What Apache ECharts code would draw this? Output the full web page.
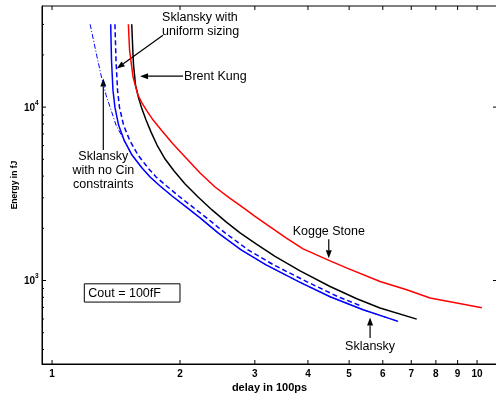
<!DOCTYPE html>
<html>
<head>
<meta charset="utf-8">
<script src="https://cdn.jsdelivr.net/npm/echarts@6/dist/echarts.min.js"></script>
<style>
  html, body { margin: 0; padding: 0; background: #fff; }
  #chart { width: 496px; height: 393px; }
</style>
</head>
<body>
<div id="chart"></div>
<script>
// axis ranges (log-log)
const xMin = 0.947, xMax = 11.14;
const yMin = 330, yMax = 38300;

// tick labels
const xTicks = [1, 2, 3, 4, 5, 6, 7, 8, 9, 10];
const yMajor = [1000, 10000];
const yMajorExp = ['3', '4'];
const yMinor = [400, 500, 600, 700, 800, 900, 2000, 3000, 4000, 5000, 6000, 7000, 8000, 9000, 20000, 30000];

// curves: [delay in 100ps, energy in fJ]
const sklansky = [[1.374, 30050], [1.380, 18650], [1.391, 12530], [1.406, 9960], [1.434, 7877], [1.477, 6457],
  [1.542, 5292], [1.628, 4455], [1.701, 3954], [1.795, 3510], [1.916, 3073], [2.067, 2657], [2.230, 2296],
  [2.458, 1882], [2.785, 1502], [3.188, 1231], [3.813, 983], [4.510, 806], [5.393, 678], [6.519, 581]];
const sklanskyUniform = [[1.406, 30050], [1.414, 18650], [1.426, 12530], [1.441, 9960], [1.473, 7877], [1.522, 6457],
  [1.593, 5292], [1.682, 4455], [1.757, 3954], [1.860, 3510], [1.985, 3073], [2.141, 2657], [2.310, 2296],
  [2.553, 1882], [2.892, 1502], [3.320, 1231], [3.981, 983], [4.710, 806], [5.355, 710]];
const sklanskyNoCin = [[1.229, 30050], [1.266, 21290], [1.304, 15290], [1.340, 11730], [1.377, 9610], [1.414, 7877],
  [1.477, 6457], [1.542, 5292], [1.628, 4455], [1.701, 3954], [1.795, 3510], [1.916, 3073], [2.067, 2657],
  [2.230, 2296], [2.458, 1882], [2.785, 1502], [3.188, 1231], [3.813, 983], [4.510, 806], [5.393, 678], [6.519, 581]];
const brentKung = [[1.540, 30050], [1.547, 22740], [1.555, 17450], [1.572, 13390], [1.598, 11270], [1.628, 9739],
  [1.664, 8420], [1.710, 7178], [1.766, 6043], [1.845, 5019], [1.937, 4280], [2.056, 3603], [2.206, 3033],
  [2.379, 2553], [2.567, 2177], [2.769, 1882], [3.020, 1627], [3.347, 1378], [3.833, 1137], [4.510, 924],
  [5.212, 785], [5.911, 694], [7.212, 599]];
const koggeStone = [[1.512, 30050], [1.522, 21290], [1.551, 14890], [1.593, 11730], [1.628, 10540], [1.673, 9484],
  [1.729, 8420], [1.815, 7275], [1.926, 6124], [2.067, 5087], [2.230, 4170], [2.418, 3463], [2.623, 2973],
  [2.769, 2710], [3.003, 2342], [3.259, 2038], [3.552, 1761], [3.896, 1522], [4.510, 1298], [4.945, 1179],
  [5.911, 987], [6.832, 884], [7.752, 792], [8.960, 741], [10.26, 696]];

// annotations
const notes = [
  { at: [1.815, 30060], text: 'Sklansky with\nuniform sizing', align: 'left' },
  { at: [2.045, 15085], text: 'Brent Kung', align: 'left' },
  { at: [1.32, 4298], text: 'Sklansky\nwith no Cin\nconstraints', align: 'center' },
  { at: [4.478, 1915], text: 'Kogge Stone', align: 'center' },
  { at: [5.601, 417], text: 'Sklansky', align: 'center' }
];
const arrows = [
  [[1.824, 25970], [1.42, 16700]],
  [[2.033, 15085], [1.611, 15085]],
  [[1.32, 5655], [1.32, 14630]],
  [[4.478, 1731], [4.478, 1346]],
  [[5.601, 466], [5.601, 612]]
];
const coutBox = [[1.191, 957], [2.0, 751]];
const coutText = 'Cout = 100fF';

const FONT = '"Liberation Sans", Arial, Helvetica, sans-serif';

const chart = echarts.init(document.getElementById('chart'));

function lineEl(x1, y1, x2, y2, w) {
  return { type: 'line', shape: { x1, y1, x2, y2 }, style: { stroke: '#000', lineWidth: w || 1 } };
}

function curve(data, color, width, type) {
  return {
    type: 'line', data, showSymbol: false, smooth: false,
    lineStyle: { color, width, type: type || 'solid' }
  };
}

const option = {
  animation: false,
  backgroundColor: '#fff',
  grid: {
    left: 42, top: 6, width: 455, bottom: 29,
    outerBoundsMode: 'none', containLabel: false,
    show: true, borderColor: '#000', borderWidth: 1
  },
  xAxis: {
    type: 'log', logBase: 10, min: xMin, max: xMax,
    name: 'delay in 100ps', nameLocation: 'middle', nameGap: 18.5,
    nameTextStyle: { fontFamily: FONT, fontWeight: 'bold', fontSize: 11, color: '#000' },
    axisLine: { show: true, lineStyle: { color: '#000', width: 1 } },
    axisTick: { show: false }, axisLabel: { show: false }, splitLine: { show: false }
  },
  yAxis: {
    type: 'log', logBase: 10, min: yMin, max: yMax,
    name: 'Energy in fJ', nameLocation: 'middle', nameGap: 23, nameRotate: 90,
    nameTextStyle: { fontFamily: FONT, fontWeight: 'bold', fontSize: 8.5, color: '#000' },
    axisLine: { show: true, lineStyle: { color: '#000', width: 1 } },
    axisTick: { show: false }, axisLabel: { show: false }, splitLine: { show: false }
  },
  series: [
    curve(sklanskyNoCin, '#0000ff', 1, [5, 2, 1, 2]),
    curve(sklansky, '#0000ff', 1.5),
    curve(sklanskyUniform, '#0000ff', 1.5, [5, 3]),
    curve(brentKung, '#000000', 1.5),
    curve(koggeStone, '#ff0000', 1.5),
    {
      // x ticks (bottom + top) and labels
      type: 'custom', silent: true,
      data: xTicks.map(v => [v, yMin]),
      renderItem(params, api) {
        const v = xTicks[params.dataIndex];
        const pb = api.coord([v, yMin]);
        const pt = api.coord([v, yMax]);
        return {
          type: 'group', children: [
            lineEl(pb[0], pb[1], pb[0], pb[1] - 4),
            lineEl(pt[0], pt[1], pt[0], pt[1] + 4),
            {
              type: 'text', x: pb[0], y: pb[1] + 10,
              style: { text: String(v), align: 'center', verticalAlign: 'middle', font: 'bold 10px ' + FONT, fill: '#000' }
            }
          ]
        };
      }
    },
    {
      // y major ticks (left + right) and labels
      type: 'custom', silent: true,
      data: yMajor.map(v => [xMin, v]),
      renderItem(params, api) {
        const v = yMajor[params.dataIndex];
        const pl = api.coord([xMin, v]);
        const pr = api.coord([xMax, v]);
        return {
          type: 'group', children: [
            lineEl(pl[0], pl[1], pl[0] + 4, pl[1]),
            lineEl(pr[0], pr[1], pr[0] - 4, pr[1]),
            {
              type: 'text', x: pl[0] - 7, y: pl[1] + 1,
              style: { text: '10', align: 'right', verticalAlign: 'middle', font: 'bold 10px ' + FONT, fill: '#000' }
            },
            {
              type: 'text', x: pl[0] - 7, y: pl[1] - 4,
              style: { text: yMajorExp[params.dataIndex], align: 'left', verticalAlign: 'middle', font: 'bold 6.5px ' + FONT, fill: '#000' }
            }
          ]
        };
      }
    },
    {
      // y minor ticks
      type: 'custom', silent: true,
      data: yMinor.map(v => [xMin, v]),
      renderItem(params, api) {
        const pl = api.coord([xMin, yMinor[params.dataIndex]]);
        return lineEl(pl[0], pl[1], pl[0] + 2, pl[1]);
      }
    },
    {
      // arrows
      type: 'custom', silent: true,
      data: arrows.map(a => a[1]),
      renderItem(params, api) {
        const a = arrows[params.dataIndex];
        const p0 = api.coord(a[0]);
        const p1 = api.coord(a[1]);
        const dx = p1[0] - p0[0], dy = p1[1] - p0[1];
        const len = Math.sqrt(dx * dx + dy * dy);
        const ux = dx / len, uy = dy / len;
        const hl = 8, hw = 3;
        const bx = p1[0] - ux * hl, by = p1[1] - uy * hl;
        return {
          type: 'group', children: [
            lineEl(p0[0], p0[1], bx, by, 1.2),
            {
              type: 'polygon',
              shape: { points: [[p1[0], p1[1]], [bx - uy * hw, by + ux * hw], [bx + uy * hw, by - ux * hw]] },
              style: { fill: '#000' }
            }
          ]
        };
      }
    },
    {
      // annotation texts
      type: 'custom', silent: true,
      data: notes.map(n => n.at),
      renderItem(params, api) {
        const n = notes[params.dataIndex];
        const p = api.coord(n.at);
        return {
          type: 'text', x: p[0], y: p[1],
          style: { text: n.text, align: n.align, verticalAlign: 'middle', lineHeight: 14, font: '12.5px ' + FONT, fill: '#000' }
        };
      }
    },
    {
      // Cout box
      type: 'custom', silent: true,
      data: [coutBox[0]],
      renderItem(params, api) {
        const a = api.coord(coutBox[0]);
        const b = api.coord(coutBox[1]);
        return {
          type: 'group', children: [
            {
              type: 'rect', shape: { x: a[0], y: a[1], width: b[0] - a[0], height: b[1] - a[1] },
              style: { fill: '#fff', stroke: '#000', lineWidth: 1 }
            },
            {
              type: 'text', x: a[0] + 4, y: (a[1] + b[1]) / 2 + 0.5,
              style: { text: coutText, align: 'left', verticalAlign: 'middle', font: '12.5px ' + FONT, fill: '#000' }
            }
          ]
        };
      }
    }
  ]
};

chart.setOption(option);
</script>
</body>
</html>
